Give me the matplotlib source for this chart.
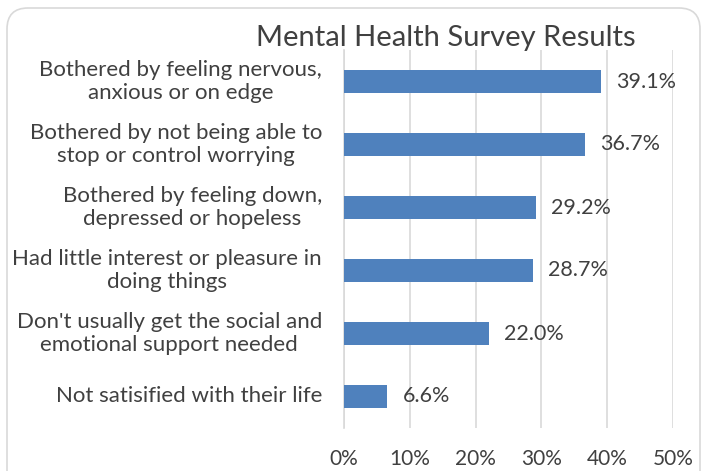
import matplotlib
matplotlib.use('Agg')
import matplotlib.pyplot as plt
from matplotlib.patches import FancyBboxPatch
from matplotlib.ticker import FuncFormatter
from matplotlib.transforms import blended_transform_factory

# Chart data
categories = [
    "Bothered by feeling nervous,\nanxious or on edge",
    "Bothered by not being able to\nstop or control worrying",
    "Bothered by feeling down,\ndepressed or hopeless",
    "Had little interest or pleasure in\ndoing things",
    "Don't usually get the social and\nemotional support needed",
    "Not satisified with their life",
]
values = [39.1, 36.7, 29.2, 28.7, 22.0, 6.6]
x_ticks = [0, 10, 20, 30, 40, 50]

BAR_COLOR = '#4F81BD'
GRID_COLOR = '#D9D9D9'
TEXT_COLOR = '#404040'
plt.rcParams['font.family'] = ['Lato', 'DejaVu Sans']

fig = plt.figure(figsize=(7.02, 4.71), dpi=100)
fig.patch.set_facecolor('white')

# rounded chart border (bottom runs off the image)
border = FancyBboxPatch((7 / 702, -0.1), 693 / 702, 1 - 8 / 471 + 0.1,
                        boxstyle='round,pad=0,rounding_size=0.03',
                        transform=fig.transFigure, facecolor='none',
                        edgecolor=GRID_COLOR, linewidth=1.2, mutation_aspect=702 / 471)
fig.patches.append(border)

ax = fig.add_axes([344 / 702, 1 - 428 / 471, 329 / 702, 378 / 471])
y = list(range(len(categories)))
ax.barh(y, values, height=0.35, color=BAR_COLOR, zorder=3)
ax.set_ylim(len(categories) - 0.5, -0.5)
ax.set_xlim(0, 50)
ax.set_yticks(y)
ax.set_yticklabels([])
ax.set_xticks(x_ticks)
ax.xaxis.set_major_formatter(FuncFormatter(lambda v, p: f'{v:.0f}%'))
ax.tick_params(axis='x', labelsize=15, colors=TEXT_COLOR, length=0, pad=15)
ax.tick_params(axis='y', length=0, pad=0)
ax.grid(axis='x', color=GRID_COLOR, linewidth=1.2, zorder=0)
for s in ['top', 'right', 'bottom']:
    ax.spines[s].set_visible(False)
ax.spines['left'].set_color(GRID_COLOR)
ax.spines['left'].set_linewidth(1.2)

# category labels: block right-aligned to the axis, lines centred
trans = blended_transform_factory(ax.transAxes, ax.transData)
for yi, cat in zip(y, categories):
    ax.text(-0.067, yi, cat, transform=trans, ha='right', va='center',
            multialignment='center', fontsize=16, color=TEXT_COLOR, linespacing=1.2)

for yi, v in zip(y, values):
    ax.annotate(f'{v:.1f}%', (v, yi), xytext=(15, 0), textcoords='offset pixels',
                ha='left', va='center', fontsize=15.5, color=TEXT_COLOR)

fig.text(446 / 702, 1 - 38 / 471, 'Mental Health Survey Results', ha='center',
         va='center', fontsize=21, color=TEXT_COLOR)

fig.savefig('out.png', dpi=100)
